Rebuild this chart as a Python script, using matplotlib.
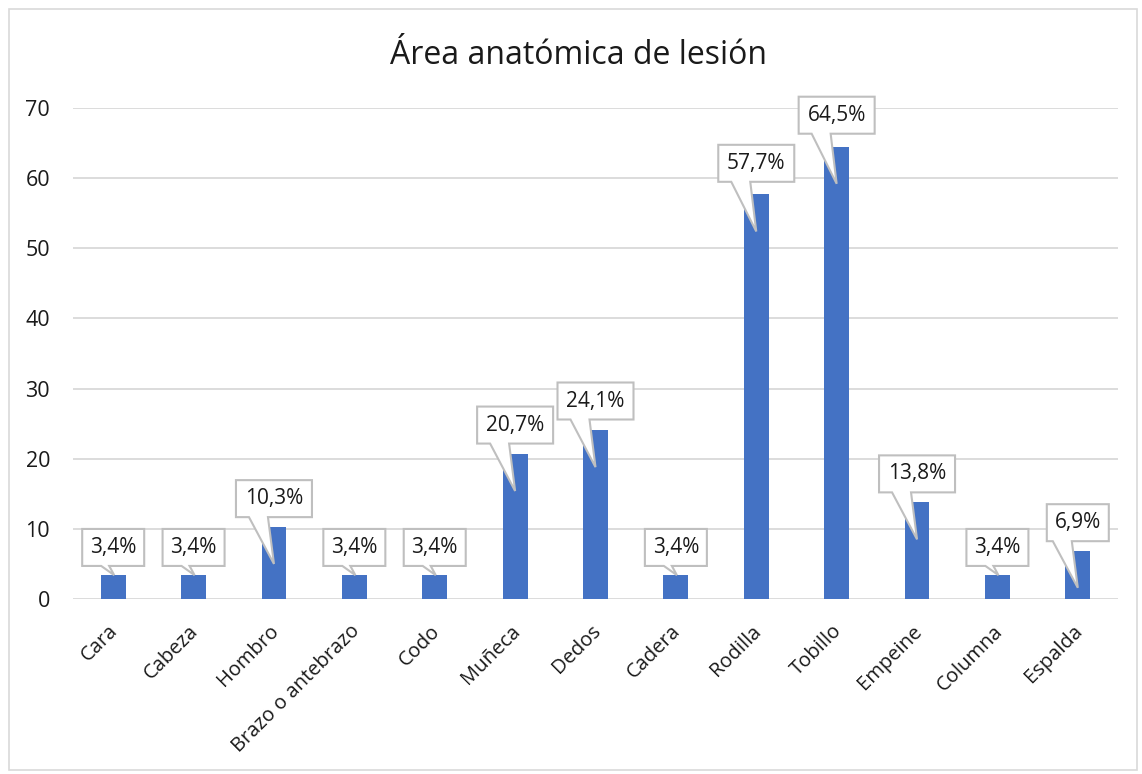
import numpy as np
import matplotlib.pyplot as plt
from matplotlib.patches import Polygon, Rectangle
from matplotlib.transforms import ScaledTranslation

plt.rcParams["font.family"] = ["Open Sans", "DejaVu Sans"]

categories = ["Cara", "Cabeza", "Hombro", "Brazo o antebrazo", "Codo", "Muñeca",
              "Dedos", "Cadera", "Rodilla", "Tobillo", "Empeine", "Columna", "Espalda"]
values = [3.4, 3.4, 10.3, 3.4, 3.4, 20.7, 24.1, 3.4, 57.7, 64.5, 13.8, 3.4, 6.9]
labels = ["3,4%", "3,4%", "10,3%", "3,4%", "3,4%", "20,7%", "24,1%",
          "3,4%", "57,7%", "64,5%", "13,8%", "3,4%", "6,9%"]
yticks = [0, 10, 20, 30, 40, 50, 60, 70]

W, H = 1142, 774
fig = plt.figure(figsize=(W / 100, H / 100), dpi=100)
fig.patch.set_facecolor("white")

# chart border
fig.patches.append(Rectangle((9 / W, 4 / H), 1128 / W, 761 / H, transform=fig.transFigure,
                             fill=False, edgecolor="#d9d9d9", linewidth=1.2))

ax = fig.add_axes([73 / W, 1 - 599 / H, 1045 / W, 491 / H])
x = np.arange(len(categories))
ax.bar(x, values, width=0.31, color="#4472C4", zorder=2)
ax.set_xlim(-0.5, len(categories) - 0.5)
ax.set_ylim(0, 70)
ax.set_yticks(yticks)
ax.yaxis.grid(True, color="#d9d9d9", linewidth=1.3, zorder=0)
for s in ax.spines.values():
    s.set_visible(False)
ax.tick_params(axis="both", length=0, colors="#1a1a1a")
ax.tick_params(axis="y", pad=16.5, labelsize=15.5)
ax.set_xticks(x)
ax.set_xticklabels(categories, rotation=45, ha="right", va="top",
                   rotation_mode="anchor", fontsize=14.5, color="#1a1a1a")
ax.tick_params(axis="x", pad=16)
shift = ScaledTranslation(-5 / 100, 0, fig.dpi_scale_trans)
for t in ax.get_xticklabels():
    t.set_transform(t.get_transform() + shift)

fig.text(0.507, 1 - 56 / H, "Área anatómica de lesión", ha="center", va="center",
         fontsize=23, color="#1a1a1a")

# callout labels (built in pixels, converted back to data coords)
inv = ax.transData.inverted()
for i, (v, lab) in enumerate(zip(values, labels)):
    cx, top = ax.transData.transform((i, v))
    bw = 14 * len(lab) + 6
    bh = 37
    yb = top + 9 + 0.06 * v
    yt = yb + bh
    x0, x1 = cx - bw / 2, cx + bw / 2
    if v > 6:
        tx, ty = ax.transData.transform((i, v - 5.3))
        b1, b2 = cx - 25, cx - 6
    else:
        tx, ty = cx + 1, top
        b1, b2 = cx - 12, cx - 4
    pts = [(x0, yb), (b1, yb), (tx, ty), (b2, yb), (x1, yb), (x1, yt), (x0, yt)]
    poly = Polygon(inv.transform(pts), closed=True, facecolor="white",
                   edgecolor="#bfbfbf", linewidth=1.5, zorder=4, clip_on=False)
    ax.add_patch(poly)
    tcx, tcy = inv.transform((cx, (yb + yt) / 2))
    ax.text(tcx, tcy, lab, ha="center", va="center", fontsize=15,
            color="#1a1a1a", zorder=5, clip_on=False)

fig.savefig("out.png", dpi=100)
